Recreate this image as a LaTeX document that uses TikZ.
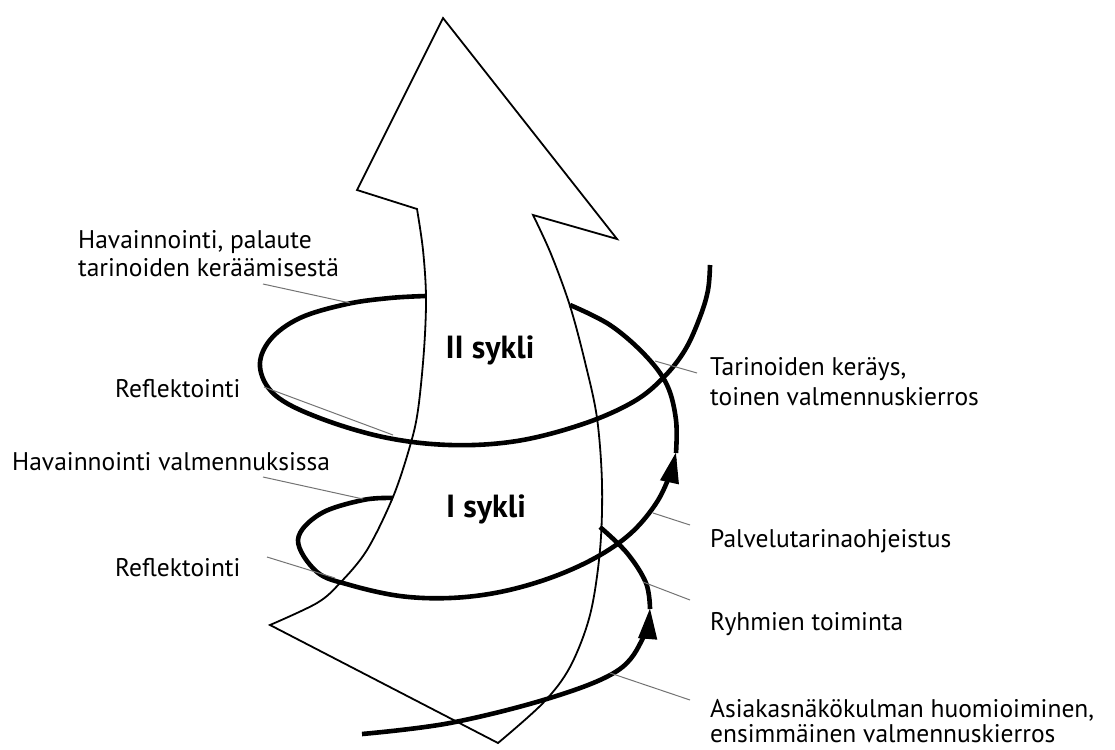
\documentclass[tikz,border=0pt]{standalone}
\usepackage{fontspec}
\setmainfont{PT Sans}
\usetikzlibrary{arrows.meta}
\begin{document}
\begin{tikzpicture}[x=1pt,y=-1pt,
  body/.style={draw=black, line width=1.8pt, fill=white, line join=miter},
  spiral/.style={draw=black, line width=4.6pt},
  spiraltip/.style={spiral, -{Triangle[length=31pt,width=18pt]}},
  leader/.style={draw=black!55, line width=1pt},
  label/.style={font=\fontsize{25.5}{#1}\selectfont, inner sep=0pt, align=left, anchor=base west},
  label/.default=29,
  cyclelabel/.style={font=\fontsize{32}{36}\selectfont\bfseries, inner sep=0pt}
]
\useasboundingbox (0,0) rectangle (1115,749);

% the broad upward arrow
\path[body] (443,18) -- (617,239) -- (533,215)
  -- plot[smooth, tension=0.55] coordinates {(533,215) (551,254) (570,306) (585,362) (597,418) (602,484) (600,550) (590,615) (570,667) (543,703) (498,743)}
  -- (270,625)
  -- plot[smooth, tension=0.55] coordinates {(270,625) (317,603) (340,583) (367,550) (393,497) (410,446) (418,410) (424,350) (426,297) (423,250) (417,209)}
  -- (357,190) -- cycle;

% lower turn of the spiral
\draw[spiraltip] plot[smooth, tension=0.6] coordinates {(362,734) (450,723) (550,698) (617,671) (643,638) (650,608)};
\draw[spiral] plot[smooth, tension=0.6] coordinates {(650,609) (646,583) (627,553) (600,527)};

% first cycle loop
\draw[spiraltip] plot[smooth, tension=0.6] coordinates {(393,498) (363,500) (320,514) (298,540) (317,572) (350,585) (400,596) (450,598) (500,592) (550,578) (595,558) (630,534) (655,505) (669,477) (676,452)};
\draw[spiral] plot[smooth, tension=0.6] coordinates {(676,453) (676,420) (667,385) (645,355) (610,325) (570,305)};

% second cycle loop
\draw[spiral] plot[smooth, tension=0.6] coordinates {(426,296) (390,298) (347,304) (300,318) (270,340) (260,367) (275,395) (317,417) (383,437) (450,445) (517,441) (583,424) (633,402) (663,378) (685,350) (700,317) (708,290) (710,265)};

% cycle names
\node[cyclelabel] (c2) at (490,350) {II sykli};
\node[cyclelabel] (c1) at (486,509) {I sykli};

% labels, left (multi-line nodes sit on their last baseline)
\node[label=28] (l1) at (78,276) {Havainnointi, palaute\\tarinoiden keräämisestä};
\node[label] (l2) at (115,397) {Reflektointi};
\node[label] (l3) at (12,470) {Havainnointi valmennuksissa};
\node[label] (l4) at (115,576) {Reflektointi};
% labels, right
\node[label=30] (r1) at (710,405) {Tarinoiden keräys,\\toinen valmennuskierros};
\node[label] (r2) at (710,547) {Palvelutarinaohjeistus};
\node[label] (r3) at (710,630) {Ryhmien toiminta};
\node[label=25] (r4) at (710,742) {Asiakasnäkökulman huomioiminen,\\ensimmäinen valmennuskierros};

% leader line ends
\coordinate (a1) at (263,284); \coordinate (b1) at (350,303);
\coordinate (a2) at (264,387); \coordinate (b2) at (393,435);
\coordinate (a3) at (263,477); \coordinate (b3) at (363,499);
\coordinate (a4) at (267,557); \coordinate (b4) at (335,578);
\coordinate (a5) at (697,373); \coordinate (b5) at (655,361);
\coordinate (a6) at (690,525); \coordinate (b6) at (653,513);
\coordinate (a7) at (690,600); \coordinate (b7) at (643,582);
\coordinate (a8) at (690,700); \coordinate (b8) at (610,673);
\foreach \i in {1,...,8} \draw[leader] (a\i) -- (b\i);
\end{tikzpicture}
\end{document}
